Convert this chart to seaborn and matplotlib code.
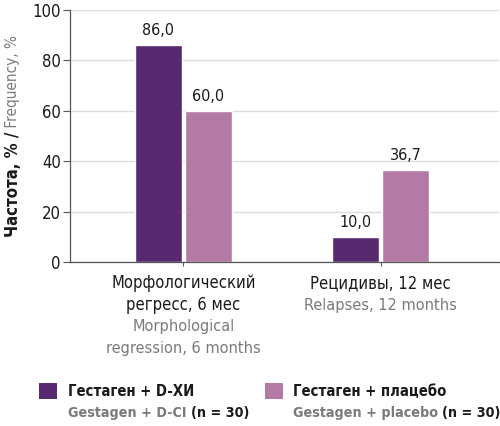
import pandas as pd
import seaborn as sns
import matplotlib.pyplot as plt
from matplotlib import font_manager
from matplotlib.ft2font import FT2Font
from matplotlib.patches import Rectangle

# Data
cat_keys = ["morph", "relapse"]
cat_lines_ru = [["Морфологический", "регресс, 6 мес"], ["Рецидивы, 12 мес"]]
cat_lines_en = [["Morphological", "regression, 6 months"], ["Relapses, 12 months"]]
groups = ["Гестаген + D-ХИ", "Гестаген + плацебо"]
groups_en = ["Gestagen + D-CI", "Gestagen + placebo"]
group_n = ["(n = 30)", "(n = 30)"]
dxi_values = [86.0, 10.0]
placebo_values = [60.0, 36.7]
y_ticks = [0, 20, 40, 60, 80, 100]

colors = ["#58296e", "#b27aa5"]
grey = "#7a7a7a"
black = "#1a1a1a"

df = pd.DataFrame({
    "cat": cat_keys * 2,
    "group": [groups[0]] * 2 + [groups[1]] * 2,
    "value": dxi_values + placebo_values,
})

sns.set_theme(style="white")
plt.rcParams["font.family"] = ["Liberation Sans", "DejaVu Sans"]


# --- pick narrow faces if there are any (the original uses a condensed font)
def _has_cyr(path):
    try:
        return 0x0416 in FT2Font(path).get_charmap()
    except Exception:
        return False


def _weight(w):
    if isinstance(w, int):
        return w
    return font_manager.weight_dict.get(str(w), 400)


narrow_fonts = []
for f in font_manager.fontManager.ttflist:
    key = (f.name + " " + f.fname).lower()
    if ("narrow" in key or "condensed" in key) and "italic" not in key and "oblique" not in f.style:
        narrow_fonts.append((f, _has_cyr(f.fname), _weight(f.weight)))


def _find(cyr, bold):
    for f, c, w in narrow_fonts:
        if (c or not cyr) and ((w >= 600) == bold) and 350 <= w <= 800:
            return dict(family=[f.name, "Liberation Sans", "DejaVu Sans"],
                        stretch=f.stretch, weight=w)
    return None


lib_reg = dict(family=["Liberation Sans", "DejaVu Sans"], weight="normal")
lib_bold = dict(family=["Liberation Sans", "DejaVu Sans"], weight="bold")

lat_reg = _find(False, False)
cyr_reg = _find(True, False)
lat_bold = _find(False, True)
cyr_bold = _find(True, True)

f_digits = (lat_reg, 12.0) if lat_reg else (lib_reg, 12.5)
f_value = (lat_reg, 11.5) if lat_reg else (lib_reg, 12)
f_ru = (cyr_reg, 11.9) if cyr_reg else (lib_reg, 12.5)
f_en = (lat_reg, 11.7) if lat_reg else (lib_reg, 12.5)
f_yl_b = (cyr_bold, 12.0) if cyr_bold else (lib_bold, 12.2)
f_yl = (lat_reg, 11.0) if lat_reg else (lib_reg, 12)
f_en_b = (lat_bold, 10.3) if lat_bold else (lib_bold, 11.2)
f_leg_ru = (cyr_bold, 10.6) if cyr_bold else (lib_bold, 11.5)


def fk(spec):
    d = dict(spec[0])
    d["fontsize"] = spec[1]
    return d


fig = plt.figure(figsize=(5, 4.26), dpi=100)
ax = fig.add_axes([0.14, 0.385, 0.858, 0.5915])

sns.barplot(data=df, x="cat", y="value", hue="group", palette=colors,
            width=0.51, gap=0.07, legend=False, ax=ax, saturation=1)

for container in ax.containers:
    ax.bar_label(container,
                 labels=[f"{b.get_height():.1f}".replace(".", ",") for b in container],
                 padding=5, color=black, **fk(f_value))

ax.set_ylim(0, 100)
ax.set_xlim(-0.575, 1.6)
ax.set_yticks(y_ticks)
ax.set_yticklabels([str(t) for t in y_ticks], color=black, **fk(f_digits))
ax.tick_params(axis="y", length=5, width=0.8, color="#555555", pad=1.5, left=True)
ax.tick_params(axis="x", length=3, width=0.8, color="#555555", bottom=True)
ax.set_xticks([0, 1])
ax.set_xticklabels(["", ""])
ax.set_xlabel("")
ax.set_ylabel("")

ax.grid(True, axis="y", color="#dcdcdc", linewidth=1)
ax.set_axisbelow(True)
for s in ["top", "right"]:
    ax.spines[s].set_visible(False)
for s in ["left", "bottom"]:
    ax.spines[s].set_color("#555555")
    ax.spines[s].set_linewidth(0.9)

# category labels (russian black, english grey)
offsets = [15.1, 31.0, 46.8, 62.6]
for i in range(len(cat_keys)):
    lines = [(t, black, f_ru) for t in cat_lines_ru[i]] + [(t, grey, f_en) for t in cat_lines_en[i]]
    for j, (t, c, spec) in enumerate(lines):
        ax.annotate(t, xy=(i, 0), xycoords=ax.get_xaxis_transform(),
                    xytext=(0, -offsets[j]), textcoords="offset points",
                    ha="center", va="center", color=c, **fk(spec))

# y label: bold black part + grey part
yl1 = fig.text(0.026, 0.443, "Частота, % /", rotation=90, ha="center", va="bottom",
               color=black, **fk(f_yl_b))
ax.annotate(" Frequency, %", xy=(0.5, 1), xycoords=yl1, rotation=90,
            ha="center", va="bottom", color=grey, **fk(f_yl))

# legend
fig.canvas.draw()
renderer = fig.canvas.get_renderer()
W, H = fig.get_size_inches() * fig.dpi
sq_x = [39, 265]
txt_x = [68, 293]
for k in range(2):
    fig.add_artist(Rectangle((sq_x[k] / W, 1 - 399 / H), 18 / W, 16 / H,
                             transform=fig.transFigure, color=colors[k], lw=0))
    fig.text(txt_x[k] / W, 1 - 391 / H, groups[k], ha="left", va="center",
             color=black, **fk(f_leg_ru))
    t2 = fig.text(txt_x[k] / W, 1 - 417 / H, groups_en[k] + " ", ha="left",
                  va="baseline", color=grey, **fk(f_en_b))
    ext = t2.get_window_extent(renderer)
    fig.text(ext.x1 / W, 1 - 417 / H, group_n[k], ha="left", va="baseline",
             color=black, **fk(f_en_b))

fig.savefig("out.png", dpi=100)
